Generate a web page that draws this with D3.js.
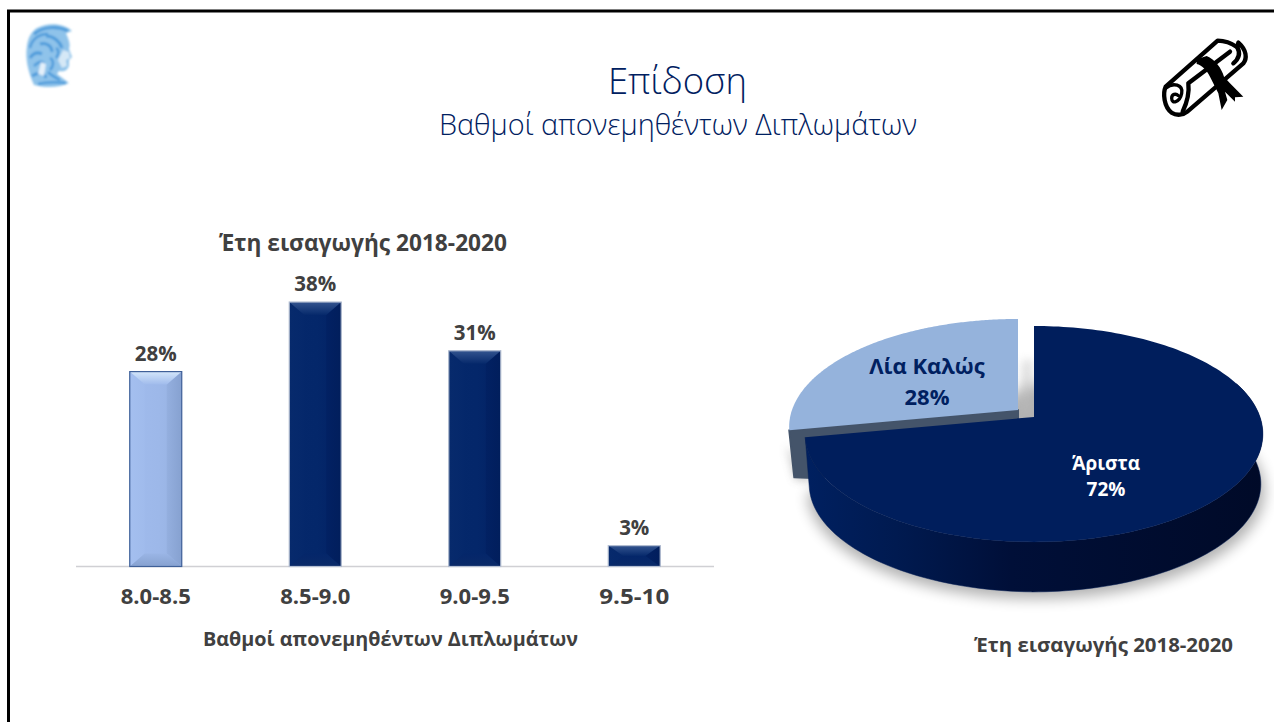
<!DOCTYPE html>
<html><head><meta charset="utf-8">
<script src="https://cdn.jsdelivr.net/npm/d3@7"></script>
<style>html,body{margin:0;padding:0;background:#fff}svg{display:block}text{font-family:"Open Sans","Noto Sans",sans-serif}</style>
</head><body><svg id="c" width="1274" height="722"></svg>
<script>
const barCategories=["8.0-8.5","8.5-9.0","9.0-9.5","9.5-10"];
const barValues=[28,38,31,3];
const barLabels=["28%","38%","31%","3%"];
const pieCategories=["Άριστα","Λία Καλώς"];
const pieValues=[72,28];
const pieLabels=["72%","28%"];
const titleMain="Επίδοση", titleSub="Βαθμοί απονεμηθέντων Διπλωμάτων";
const barTitle="Έτη εισαγωγής 2018-2020", barAxisTitle="Βαθμοί απονεμηθέντων Διπλωμάτων", pieCaption="Έτη εισαγωγής 2018-2020";

const svg=d3.select("#c"), defs=svg.append("defs");
svg.append("rect").attr("width",1274).attr("height",722).attr("fill","#fff");
svg.append("path").attr("d","M8.5 722 V11 H1274").attr("fill","none").attr("stroke","#000").attr("stroke-width",3);

function grad(id,stops,x2=0,y2=1){const g=defs.append("linearGradient").attr("id",id).attr("x1",0).attr("y1",0).attr("x2",x2).attr("y2",y2);
 stops.forEach(([o,c])=>g.append("stop").attr("offset",o).attr("stop-color",c));}
grad("dFace",[[0,"#05286b"],[.55,"#04276a"],[1,"#022163"]],1,0);
grad("dTop",[[0,"#33548f"],[1,"#06296b"]]);
grad("dBot",[[0,"#04266a"],[1,"#0a2a68"]]);
grad("dL",[[0,"#072a6c"],[1,"#05286b"]],1,0);
grad("dR",[[0,"#022163"],[1,"#011e5c"]],1,0);
grad("lFace",[[0,"#a0bbed"],[.55,"#9db8e9"],[1,"#96b1e1"]],1,0);
grad("lTop",[[0,"#d3e6fa"],[1,"#a0bbec"]]);
grad("lBot",[[0,"#9ab5e5"],[1,"#86a1d0"]]);
grad("lL",[[0,"#a4bfef"],[1,"#a0bbec"]],1,0);
grad("lR",[[0,"#94afdf"],[1,"#86a1d0"]],1,0);
grad("wall",[[0,"#002060"],[.2,"#001a50"],[.45,"#000f38"],[1,"#000a28"]],1,0);
const blur=(id,s)=>defs.append("filter").attr("id",id).attr("x","-30%").attr("y","-30%").attr("width","160%").attr("height","160%").append("feGaussianBlur").attr("stdDeviation",s);
blur("b8",7);blur("b4",4);blur("b1",.9);

/* fitted text helper */
const fit=(g,xx,yy,t,fs,len,fw,f)=>g.append("text").attr("x",xx).attr("y",yy).attr("text-anchor","middle").attr("font-size",fs)
  .attr("font-weight",fw).attr("fill",f).attr("textLength",len).attr("lengthAdjust","spacingAndGlyphs").text(t);

/* titles */
const navy="#002060", grey="#404040";
fit(svg,677.5,94,titleMain,37,139,300,navy);
fit(svg,678,135,titleSub,29,478,300,navy);

/* bars */
const x=d3.scaleBand().domain(barCategories).range([76,714]).paddingInner(.674).paddingOuter(.337);
const y=d3.scaleLinear().domain([0,38]).range([566.5,302]);
const gB=svg.append("g");
gB.append("line").attr("x1",x.range()[0]).attr("x2",x.range()[1]).attr("y1",y(0)).attr("y2",y(0)).attr("stroke","#d0d0d4").attr("stroke-width",1.5);
barCategories.forEach((c,i)=>{
 const x0=x(c),w=x.bandwidth(),x1=x0+w,t=y(barValues[i]),b=y(0),p=i==0?"l":"d";
 const bev=Math.min(13,(b-t)/2), bx=Math.min(15,w/2);
 const g=gB.append("g");
 const poly=(pts,f)=>g.append("path").attr("d",d3.line()(pts)+"Z").attr("fill",f);
 poly([[x0,t],[x1,t],[x1,b],[x0,b]],`url(#${p}Face)`);
 poly([[x0,t],[x0+bx,t+bev],[x0+bx,b-bev],[x0,b]],`url(#${p}L)`);
 poly([[x1,t],[x1-bx,t+bev],[x1-bx,b-bev],[x1,b]],`url(#${p}R)`);
 poly([[x0,t],[x1,t],[x1-bx,t+bev],[x0+bx,t+bev]],`url(#${p}Top)`);
 poly([[x0,b],[x1,b],[x1-bx,b-bev],[x0+bx,b-bev]],`url(#${p}Bot)`);
 g.append("rect").attr("x",x0).attr("y",t).attr("width",w).attr("height",b-t).attr("fill","none")
  .attr("stroke",i==0?"#3f6098":"#b4bfd2").attr("stroke-width",1.2);
 gB.append("text").attr("x",x0+w/2).attr("y",t-11).attr("text-anchor","middle").attr("font-size",20.5).attr("font-weight",700).attr("fill",grey).text(barLabels[i]);
 fit(gB,x0+w/2,604,c,21,70,700,grey);
});
fit(svg,363,251,barTitle,22.5,288,700,grey);
fit(svg,390.5,646,barAxisTitle,19.5,375,700,grey);

/* pie: d3.pie angles, projected through a tilted-disc perspective */
const K=.157,A=105.3,B=226;
const proj=(a,r,ox,oy)=>{const u=r*Math.sin(a),v=-r*Math.cos(a),d=1-K*v;return [ox+B*u/d,oy+A*v/d];};
const arcPts=(s,e,ox,oy)=>d3.range(0,181).map(i=>proj(s+(e-s)*i/180,1,ox,oy));
const arcs=d3.pie().sort(null)(pieValues);
const [aMain,aSmall]=arcs;
const MX=1034,MY=417,SX=1018,SY=410,D=50;
const line=d3.line();
const gP=svg.append("g");
/* shadows */
gP.append("path").attr("d",line(arcPts(aMain.startAngle,aMain.endAngle,MX+2,MY+D+7))+"Z").attr("fill","#000").attr("opacity",.3).attr("filter","url(#b8)");
gP.append("path").attr("d",line([[SX,SY+4],[SX+4,360],[SX+15,360],[SX+15,SY+4]])+"Z").attr("fill","#bbb").attr("opacity",.45).attr("filter","url(#b4)");
gP.append("path").attr("d",line([[786,445],[795,480],[815,482]])+"Z").attr("fill","#888").attr("opacity",.45).attr("filter","url(#b4)");
/* exploded slice */
const sPts=arcPts(aSmall.startAngle,aSmall.endAngle,SX,SY);
gP.append("path").attr("d",line([sPts[0],[SX,SY],[SX,SY+10],[sPts[0][0]+30,sPts[0][1]+48],[sPts[0][0]+5,sPts[0][1]+47]])+"Z").attr("fill","#44546a").attr("stroke","#44546a").attr("stroke-width",2).attr("stroke-linejoin","round");
gP.append("path").attr("d",line([[SX,SY],...sPts])+"Z").attr("fill","#95b3dc");
/* main slice */
const mPts=arcPts(aMain.startAngle,aMain.endAngle,MX,MY);
const front=mPts.filter(p=>p[1]>=MY||p[0]>MX+200);
const wall=[...front,...front.slice().reverse().map(p=>[p[0]+(p[0]<MX?4:-2),p[1]+D])];
gP.append("path").attr("d",line(wall)+"Z").attr("fill","url(#wall)").attr("stroke","#001a52").attr("stroke-width",.5);
gP.append("path").attr("d",line([[MX,MY],...mPts])+"Z").attr("fill","#001e5c");

const lbl=(xx,yy,t,f,fs)=>svg.append("text").attr("x",xx).attr("y",yy).attr("text-anchor","middle").attr("font-size",fs).attr("font-weight",700).attr("fill",f).text(t);
lbl(927,374,pieCategories[1],"#002060",22);
lbl(927,405,pieLabels[1],"#002060",22);
lbl(1106,470,pieCategories[0],"#fff",19);
lbl(1106,496,pieLabels[0],"#fff",19);
fit(svg,1103.5,652,pieCaption,19.5,259,700,grey);

/* emblem */
const em=svg.append("g").attr("filter","url(#b1)");
em.append("path").attr("d","M37 28 C48 22 64 23 72 31 L66 33 C68 38 71 44 69 49 L72 57 L69 60 L69 66 C67 71 63 72 59 71 L57 74 L69 83 C60 88 44 88 34 85 C28 72 25 58 27 46 C28 38 31 32 37 28Z").attr("fill","#8fc3ea");
[["M34 34 C44 26 58 26 68 31",3],["M30 48 C32 38 40 34 48 34",2.5],["M46 36 C54 36 60 42 62 48",3],["M40 44 C46 42 52 46 52 52",3],["M30 58 C34 52 38 52 42 54",3],["M34 66 C38 62 42 60 44 64",2.5],["M56 48 C60 50 58 56 56 58",2.5],["M50 58 C54 60 54 66 50 70",2.5],["M32 76 C38 72 44 72 46 78",3],["M38 84 C46 82 56 82 66 83",2.5],["M48 72 C52 76 56 78 60 80",2.5]].forEach(d=>em.append("path").attr("d",d[0]).attr("fill","none").attr("stroke","#4f9cdb").attr("stroke-width",d[1]));
em.append("path").attr("d","M41 62 L46 64 L44 76 L38 74Z").attr("fill","#e4f0fa");
em.append("path").attr("d","M63 50 L69 52 L70 58 L66 60 L67 66 L62 68 L58 60Z").attr("fill","#d5e8f6");

/* diploma */
const dp=svg.append("g").attr("transform","translate(1150,20) scale(0.3333)");
const ds=dp.append("g").attr("fill","none").attr("stroke","#000").attr("stroke-width",13).attr("stroke-linejoin","round").attr("stroke-linecap","round");
ds.append("path").attr("d","M203 62 L47 200 C38 220 42 262 65 278 C80 288 100 285 112 275 L280 130 C292 115 290 90 265 68 L262 82 C245 70 225 62 203 62Z");
ds.append("path").attr("d","M262 82 C272 100 268 115 250 130 M240 95 L115 190 C118 215 110 250 98 275");
ds.append("path").attr("d","M47 205 C70 185 100 195 95 220 C90 245 65 255 65 235 C65 222 78 220 84 226").attr("stroke-width",10);
dp.append("path").attr("d","M140 118 L170 108 C195 118 215 145 222 170 L240 190 L280 230 L255 232 L255 245 L225 215 L232 240 L215 270 L205 220 L180 170 C170 150 155 135 140 132Z").attr("fill","#000");
</script></body></html>
